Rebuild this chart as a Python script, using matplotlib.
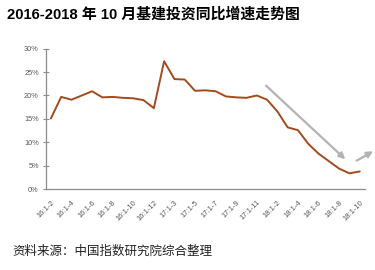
import matplotlib
matplotlib.use("Agg")
import matplotlib.pyplot as plt
from matplotlib.ticker import FuncFormatter

plt.rcParams['font.family'] = ['Liberation Sans', 'Noto Sans CJK SC', 'DejaVu Sans']

# year-to-date infrastructure investment growth, %
periods = (["16:1-%d" % m for m in range(2, 13)]
           + ["17:1-%d" % m for m in range(2, 13)]
           + ["18:1-%d" % m for m in range(2, 11)])
growth = [15.1, 19.7, 19.1, 20.0, 20.9, 19.6, 19.7, 19.5, 19.4, 19.0, 17.3,
          27.3, 23.5, 23.4, 21.0, 21.1, 20.9, 19.8, 19.6, 19.5, 20.0, 19.1,
          16.6, 13.2, 12.6, 9.7, 7.6, 6.0, 4.4, 3.4, 3.8]
tick_every = 2

fig = plt.figure(figsize=(3.75, 2.7), dpi=100)
ax = fig.add_axes([0.122, 0.299, 0.851, 0.521])

x = list(range(len(growth)))
ax.plot(x, growth, color="#A34A1E", lw=1.4, solid_capstyle="round")

ax.set_xlim(-0.5, len(growth) - 0.5)
ax.set_ylim(0, 30)
ax.set_yticks(range(0, 31, 5))
ax.yaxis.set_major_formatter(FuncFormatter(lambda v, p: "%d%%" % v))
ax.set_xticks(x[::tick_every])
ax.set_xticklabels(periods[::tick_every], rotation=45, ha="right",
                   rotation_mode="anchor")

for s in ["top", "right"]:
    ax.spines[s].set_visible(False)
for s in ["left", "bottom"]:
    ax.spines[s].set_color("#8C8C8C")
    ax.spines[s].set_linewidth(0.9)
ax.tick_params(axis="y", direction="inout", length=4, color="#8C8C8C",
               labelsize=5.3, labelcolor="#595959", pad=3)
ax.tick_params(axis="x", length=0, labelsize=5.5, labelcolor="#595959", pad=7)

# trend arrows
arrow = dict(arrowstyle="-|>", color="#B3B3B3", lw=1.6, mutation_scale=9,
             shrinkA=0, shrinkB=0)
ax.annotate("", xy=(28.6, 6.4), xytext=(20.9, 22.1), arrowprops=arrow,
            annotation_clip=False)
ax.annotate("", xy=(31.3, 8.1), xytext=(29.7, 6.1), arrowprops=arrow,
            annotation_clip=False)

fig.text(0.019, 0.945, "2016-2018 年 10 月基建投资同比增速走势图",
         fontsize=10.7, fontweight="bold", va="center", ha="left")
fig.text(0.032, 0.068, "资料来源：中国指数研究院综合整理",
         fontsize=9, va="center", ha="left", color="#222222")

fig.savefig("out.png", dpi=100)
